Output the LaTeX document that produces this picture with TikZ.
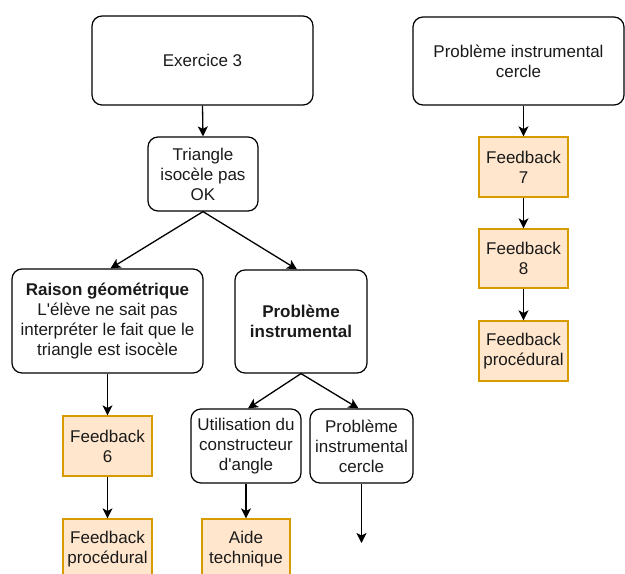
\documentclass[tikz,border=0pt]{standalone}
\usepackage{fontspec}
\setmainfont{Liberation Sans}
\usetikzlibrary{arrows.meta}
\definecolor{fbfill}{HTML}{FFE6CC}
\definecolor{fbdraw}{HTML}{D79B00}
\definecolor{txt}{HTML}{1A1A1A}
\tikzset{
  rbox/.style={draw=black, line width=1.2pt, rounded corners=10pt, align=center, inner sep=2pt,
    text=txt, font=\fontsize{17}{20}\selectfont},
  fbox/.style={draw=fbdraw, fill=fbfill, line width=1.2pt, align=center, inner sep=2pt,
    text=txt, minimum width=89pt, minimum height=60pt, font=\fontsize{17}{20}\selectfont},
  conn/.style={line width=1.3pt, -{Stealth[length=10pt,width=10pt,inset=2.5pt]}}
}
\begin{document}
\begin{tikzpicture}[x=1pt,y=-1pt]
\useasboundingbox (0,0) rectangle (625,574);
\clip (0,0) rectangle (625,574);
\node[rbox, minimum width=221pt, minimum height=89pt] (ex3) at (202.5,60.5) {Exercice 3};
\node[rbox, minimum width=110pt, minimum height=74pt] (tri) at (203,174) {Triangle\\isocèle pas\\OK};
\node[rbox, minimum width=191pt, minimum height=104pt] (rai) at (107.5,321) {\textbf{Raison géométrique}\\L\textquotesingle élève ne sait pas\\interpréter le fait que le\\triangle est isocèle};
\node[rbox, minimum width=132pt, minimum height=103pt] (pin) at (301,321.5) {\textbf{Problème}\\\textbf{instrumental}};
\node[fbox] (fb6) at (107.5,446) {Feedback\\6};
\node[fbox] (fbp1) at (107.5,549) {Feedback\\procédural};
\node[rbox, minimum width=110pt, minimum height=74pt] (uti) at (246,446) {Utilisation du\\constructeur\\d\textquotesingle angle};
\node[rbox, minimum width=103pt, minimum height=74pt] (pic) at (361.5,446) {Problème\\instrumental\\cercle};
\node[fbox, minimum width=88pt] (aide) at (246,549) {Aide\\technique};
\coordinate (picend) at (361.5,543);
\node[rbox, minimum width=211pt, minimum height=88pt] (pic2) at (518.5,61) {Problème instrumental\\cercle};
\node[fbox] (fb7) at (523.5,167) {Feedback\\7};
\node[fbox, minimum height=59pt] (fb8) at (523.5,258.5) {Feedback\\8};
\node[fbox] (fbp2) at (523.5,351) {Feedback\\procédural};

\draw[conn] (ex3.south) -- (tri.north);
\draw[conn] (tri.south) -- ([xshift=3pt]rai.north);
\draw[conn] (tri.south) -- ([xshift=-4pt]pin.north);
\draw[conn] (rai.south) -- (fb6.north);
\draw[conn] (fb6.south) -- (fbp1.north);
\draw[conn] (pin.south) -- ([xshift=2pt]uti.north);
\draw[conn] (pin.south) -- ([xshift=-3pt]pic.north);
\draw[conn] (uti.south) -- (aide.north);
\draw[conn] (pic.south) -- (picend);
\draw[conn] (pic2.south -| fb7.north) -- (fb7.north);
\draw[conn] (fb7.south) -- (fb8.north);
\draw[conn] (fb8.south) -- (fbp2.north);
\end{tikzpicture}
\end{document}
